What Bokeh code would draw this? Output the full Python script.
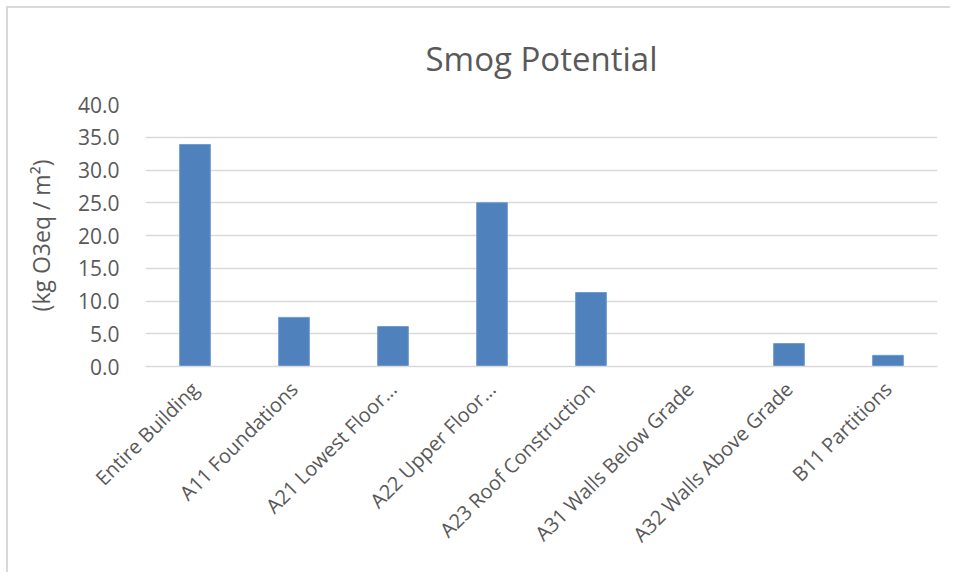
from bokeh.plotting import figure
from bokeh.models import ColumnDataSource, Range1d, FactorRange, NumeralTickFormatter, FixedTicker, Title
from bokeh.embed import file_html
from bokeh.resources import INLINE
import math

categories = ["Entire Building", "A11 Foundations", "A21 Lowest Floor...", "A22 Upper Floor...",
              "A23 Roof Construction", "A31 Walls Below Grade", "A32 Walls Above Grade", "B11 Partitions"]
values = [33.9, 7.5, 6.1, 25.0, 11.3, 0.0, 3.5, 1.7]
y_ticks = [0, 5, 10, 15, 20, 25, 30, 35, 40]

TEXT = "#595959"
FONT = "Open Sans"

src = ColumnDataSource(dict(cat=categories, val=values))

p = figure(width=944, height=566, x_range=FactorRange(*categories, range_padding=0),
           y_range=Range1d(0, 40), output_backend="svg", toolbar_location=None,
           min_border_left=137, min_border_right=15, min_border_top=96, min_border_bottom=208)
p.styles = {"margin-left": "8px", "margin-top": "8px", "box-shadow": "-2px -2px 0 0 #D9D9D9"}
p.title = None
t = Title(text="Smog Potential", align="center", text_font=FONT, text_font_size="33px",
          text_color=TEXT, text_font_style="normal", standoff=48)
p.add_layout(t, "above")

p.vbar(x="cat", top="val", width=0.31, source=src, fill_color="#4F81BD", line_color="#6F9BD0", line_width=1)

p.outline_line_color = None
p.xgrid.grid_line_color = None
p.ygrid.grid_line_color = "#D9D9D9"
p.ygrid.grid_line_width = 1.5

p.yaxis.ticker = FixedTicker(ticks=y_ticks)
p.yaxis.formatter = NumeralTickFormatter(format="0.0")
p.yaxis.axis_line_color = None
p.yaxis.major_tick_line_color = None
p.yaxis.minor_tick_line_color = None
p.yaxis.major_label_text_font = FONT
p.yaxis.major_label_text_font_size = "21px"
p.yaxis.major_label_text_color = TEXT
p.yaxis.major_label_standoff = 20
p.yaxis.axis_label = "(kg O3eq / m²)"
p.yaxis.axis_label_text_font = FONT
p.yaxis.axis_label_text_font_size = "23px"
p.yaxis.axis_label_text_font_style = "normal"
p.yaxis.axis_label_text_color = TEXT
p.yaxis.axis_label_standoff = 18

p.xaxis.axis_line_color = "#D9D9D9"
p.xaxis.axis_line_width = 1.5
p.xaxis.major_tick_line_color = None
p.xaxis.minor_tick_line_color = None
p.xaxis.major_label_orientation = math.pi / 4
p.xaxis.major_label_text_font = FONT
p.xaxis.major_label_text_font_size = "20px"
p.xaxis.major_label_text_color = TEXT
p.xaxis.major_label_standoff = 13

open("out.html", "w").write(file_html(p, INLINE))
